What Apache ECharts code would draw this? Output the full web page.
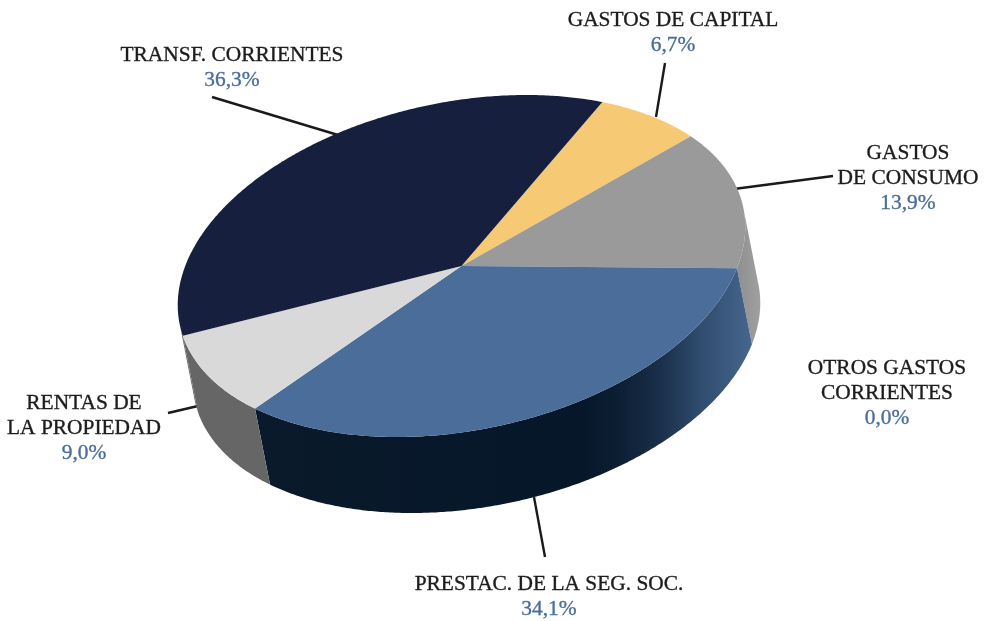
<!DOCTYPE html>
<html>
<head>
<meta charset="utf-8">
<style>html,body{margin:0;padding:0;background:#fff}#chart{width:985px;height:621px}</style>
<script src="https://cdn.jsdelivr.net/npm/echarts@6/dist/echarts.min.js"></script>
</head>
<body>
<div id="chart"></div>
<script>
// Data, clockwise from the navy / yellow boundary
var categories = ['GASTOS DE CAPITAL', 'GASTOS\nDE CONSUMO', 'OTROS GASTOS\nCORRIENTES', 'PRESTAC. DE LA SEG. SOC.', 'RENTAS DE\nLA PROPIEDAD', 'TRANSF. CORRIENTES'];
var values = [6.7, 13.9, 0.0, 34.1, 9.0, 36.3];

// Style
var topColors = ['#f6c975', '#9a9a9a', '#7f7f7f', '#4a6d9a', '#d9d9d9', '#161f3d'];
// Layout
var CX = 461.5, CY = 266, UX = 275.5, UY = 2, VX = -68, VY = 171, DX = 15, DY = 76;
var START_DEG = -74.1, SIL_A = -19.9, SIL_B = 160.1;
var labelCenters = [[673, 20], [908, 153], [887, 368], [549, 584], [84, 403], [232, 55]];
var leaders = [[[665, 63], [656, 117]], [[833, 176], [734, 189]], null, [[534, 497], [545, 557]], [[168, 413], [198, 406]], [[212, 97], [338, 135]]];
var LINE_H = 25.2;
var FONT = '21.4px "Liberation Serif", serif';

function wallFill(i) {
  if (i === 3) {
    return new echarts.graphic.LinearGradient(0, 0, 1, 0, [
      {offset: 0, color: '#0a1a2b'}, {offset: 0.66, color: '#06172a'}, {offset: 0.735, color: '#0c1f33'},
      {offset: 0.816, color: '#1a2f4a'}, {offset: 0.897, color: '#304c6e'}, {offset: 1, color: '#46668e'}
    ]);
  }
  if (i === 1) return new echarts.graphic.LinearGradient(0, 0, 1, 0, [{offset: 0, color: '#8f8f8f'}, {offset: 1, color: '#a0a0a0'}]);
  return '#666666';
}
var total = values.reduce(function (a, b) { return a + b; }, 0);
function range(i) {
  var s = START_DEG;
  for (var k = 0; k < i; k++) s += values[k] / total * 360;
  return [s, s + values[i] / total * 360];
}
function pt(deg, ox, oy) {
  var t = deg * Math.PI / 180, c = Math.cos(t), s = Math.sin(t);
  return [CX + UX * c + VX * s + (ox || 0), CY + UY * c + VY * s + (oy || 0)];
}
function arc(a, b, ox, oy) {
  var out = [], n = Math.max(2, Math.ceil(Math.abs(b - a) * 2));
  for (var i = 0; i <= n; i++) out.push(pt(a + (b - a) * i / n, ox, oy));
  return out;
}
function renderWall(params) {
  var i = params.dataIndex, r = range(i), items = [];
  var a = Math.max(r[0], SIL_A), b = Math.min(r[1], SIL_B);
  if (b - a > 0.001) {
    var pts = arc(a, b).concat(arc(b, a, DX, DY));
    items.push({type: 'polygon', shape: {points: pts}, style: {fill: wallFill(i), stroke: null}});
  }
  return {type: 'group', children: items};
}
function renderTop(params) {
  var i = params.dataIndex, r = range(i);
  if (r[1] - r[0] < 0.001) return {type: 'group', children: []};
  var pts = [[CX, CY]].concat(arc(r[0], r[1]));
  return {type: 'polygon', shape: {points: pts}, style: {fill: topColors[i], stroke: null}};
}
function textEl(str, x, y, color) {
  return {type: 'text', style: {text: str, x: x, y: y, align: 'center', verticalAlign: 'middle', font: FONT, fill: color, stroke: color, lineWidth: 0.35}};
}
function renderLabel(params) {
  var i = params.dataIndex, lines = categories[i].split('\n'), kids = [], c = labelCenters[i];
  lines.forEach(function (l, k) {
    kids.push(textEl(l, c[0], c[1] + k * LINE_H, '#1c1c1c'));
  });
  kids.push(textEl(values[i].toFixed(1).replace('.', ',') + '%', c[0], c[1] + lines.length * LINE_H, '#4a6d9a'));
  if (leaders[i]) {
    kids.push({type: 'line', shape: {x1: leaders[i][0][0], y1: leaders[i][0][1], x2: leaders[i][1][0], y2: leaders[i][1][1]}, style: {stroke: '#1a1a1a', lineWidth: 2.4}});
  }
  return {type: 'group', children: kids};
}
var rows = values.map(function (v, i) { return {name: categories[i], value: [v]}; });
var chart = echarts.init(document.getElementById('chart'), null, {renderer: 'canvas'});
chart.setOption({
  backgroundColor: '#ffffff',
  animation: false,
  series: [
    {type: 'custom', coordinateSystem: 'none', silent: true, z: 1, renderItem: renderLabel, data: rows},
    {type: 'custom', coordinateSystem: 'none', silent: true, z: 2, renderItem: renderWall, data: rows},
    {type: 'custom', coordinateSystem: 'none', silent: true, z: 3, renderItem: renderTop, data: rows}
  ]
});
</script>
</body>
</html>
